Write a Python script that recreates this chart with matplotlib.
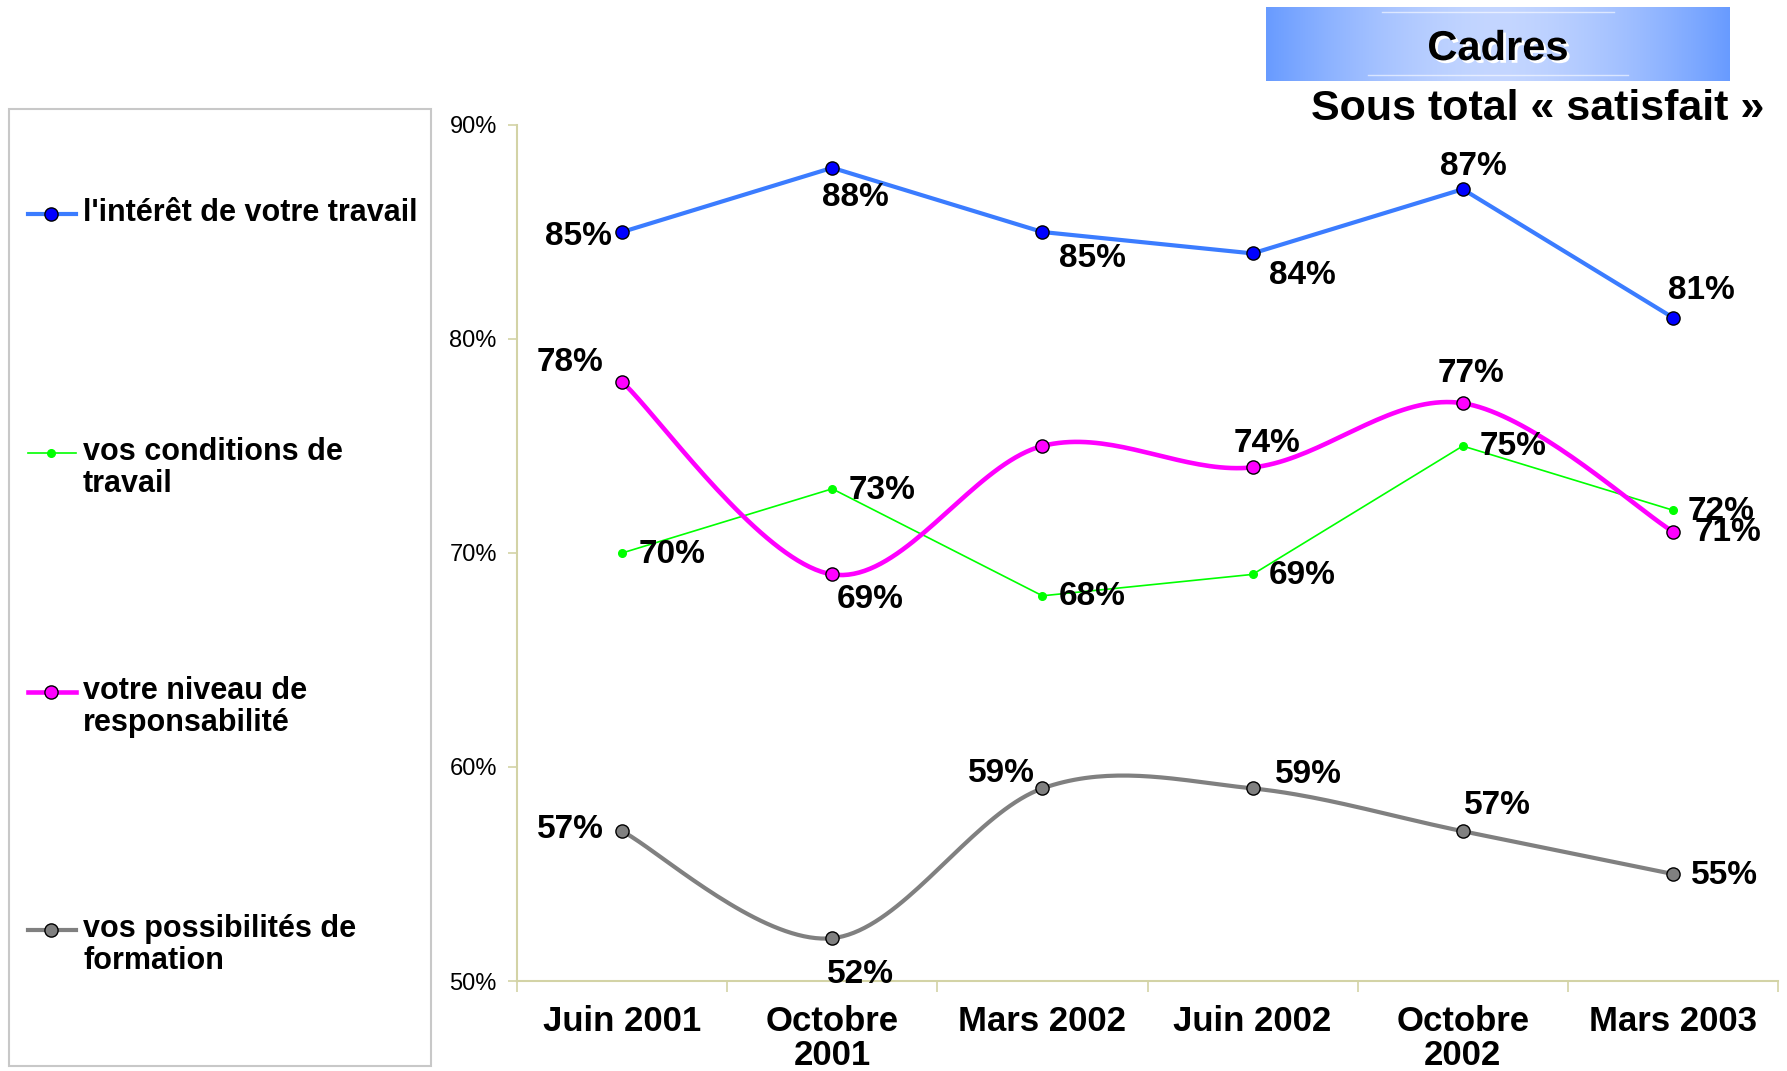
import numpy as np
import matplotlib
matplotlib.use("Agg")
import matplotlib.pyplot as plt
from matplotlib.lines import Line2D
from matplotlib.patches import Rectangle
import matplotlib.patheffects as pe

# ---------------- data ----------------
categories = ["Juin 2001", "Octobre\n2001", "Mars 2002", "Juin 2002", "Octobre\n2002", "Mars 2003"]
interet = [85, 88, 85, 84, 87, 81]
conditions = [70, 73, 68, 69, 75, 72]
responsabilite = [78, 69, 75, 74, 77, 71]
formation = [57, 52, 59, 59, 57, 55]
y_ticks = [50, 60, 70, 80, 90]
series_names = ["l'intérêt de votre travail", "vos conditions de\ntravail",
                "votre niveau de\nresponsabilité", "vos possibilités de\nformation"]
# label offsets in pixels (style only); None = no label
off_interet = [(-44, -5), (23, -30), (50, -27), (50, -22), (11, 23), (28, 27)]
off_conditions = [(50, -2), (50, -2), (50, -1), (50, -1), (50, -1), (48, -1)]
off_respons = [(-52, 19), (38, -25), None, (14, 24), (8, 30), (55, -1)]
off_formation = [(-52, 2), (28, -36), (-41, 15), (56, 14), (35, 26), (52, -1)]

FONT = "Liberation Sans"
plt.rcParams["font.family"] = [FONT, "DejaVu Sans"]

W, H = 1787, 1071
fig = plt.figure(figsize=(W / 100, H / 100), dpi=100)
fig.patch.set_facecolor("white")


def smooth(xs, ys, n=40):
    """Excel-like smoothed line (Catmull-Rom Bezier)."""
    P = np.column_stack([xs, ys]).astype(float)
    Pe = np.vstack([P[0], P, P[-1]])
    out = []
    for i in range(len(P) - 1):
        p0, p1, p2, p3 = Pe[i], Pe[i + 1], Pe[i + 2], Pe[i + 3]
        c1 = p1 + (p2 - p0) / 6.0
        c2 = p2 - (p3 - p1) / 6.0
        t = np.linspace(0, 1, n)[:, None]
        seg = ((1 - t) ** 3) * p1 + 3 * ((1 - t) ** 2) * t * c1 + 3 * (1 - t) * t ** 2 * c2 + t ** 3 * p2
        out.append(seg if i == 0 else seg[1:])
    out = np.vstack(out)
    return out[:, 0], out[:, 1]


axL, axR = 517, 1778
axT, axB = 125, 981
ax = fig.add_axes([axL / W, (H - axB) / H, (axR - axL) / W, (axB - axT) / H])
x = np.arange(len(categories))

BLUE_L = "#3b7cff"
MAG = "#ff00ff"
GRN = "#00ff00"
GRY = "#808080"
SPINE = "#d3d3a6"

# interet (straight)
ax.plot(x, interet, color=BLUE_L, lw=3.0, zorder=3)
ax.plot(x, interet, ls="none", marker="o", ms=9.5, mfc="#0000ff", mec="black", mew=1.0, zorder=4)
# conditions (straight, thin)
ax.plot(x, conditions, color=GRN, lw=1.2, zorder=3)
ax.plot(x, conditions, ls="none", marker="o", ms=5.5, mfc=GRN, mec=GRN, zorder=4)
# responsabilite (smooth)
sx, sy = smooth(x, responsabilite)
ax.plot(sx, sy, color=MAG, lw=3.3, zorder=3, solid_capstyle="round")
ax.plot(x, responsabilite, ls="none", marker="o", ms=9.5, mfc=MAG, mec="black", mew=1.0, zorder=4)
# formation (smooth)
sx, sy = smooth(x, formation)
ax.plot(sx, sy, color=GRY, lw=3.0, zorder=3, solid_capstyle="round")
ax.plot(x, formation, ls="none", marker="o", ms=9.5, mfc=GRY, mec="black", mew=1.0, zorder=4)

for vals, offs in [(interet, off_interet), (conditions, off_conditions),
                   (responsabilite, off_respons), (formation, off_formation)]:
    for xi, v, o in zip(x, vals, offs):
        if o is None:
            continue
        ax.annotate(f"{v}%", (xi, v), xytext=o, textcoords="offset pixels",
                    ha="center", va="center", fontsize=24, fontweight="bold",
                    color="black", zorder=6, annotation_clip=False)

ax.set_xlim(-0.5, len(categories) - 0.5)
ax.set_ylim(50, 90)
ax.set_yticks(y_ticks)
ax.set_yticklabels([f"{t}%" for t in y_ticks], fontsize=17)
ax.set_xticks(x)
ax.set_xticklabels(categories, fontsize=25, fontweight="bold", linespacing=1.05)
ax.set_xticks(np.arange(-0.5, len(categories)), minor=True)
ax.tick_params(axis="x", which="major", length=0, pad=17)
ax.tick_params(axis="x", which="minor", length=8, color=SPINE, width=1.2)
ax.tick_params(axis="y", which="major", length=6.5, color=SPINE, width=1.2, pad=8)
for s in ["top", "right"]:
    ax.spines[s].set_visible(False)
for s in ["left", "bottom"]:
    ax.spines[s].set_color(SPINE)
    ax.spines[s].set_linewidth(1.5)
ax.set_facecolor("none")

# ---------------- legend (drawn manually) ----------------
fig.add_artist(Rectangle((9 / W, 1 - 1066 / H), (431 - 9) / W, (1066 - 109) / H,
                         transform=fig.transFigure, fill=False, edgecolor="#c8c8c8", lw=1.5))
leg_y = [214, 453, 692, 930]
leg_styles = [
    dict(color=BLUE_L, lw=3.0, mfc="#0000ff", mec="black", ms=9.5),
    dict(color=GRN, lw=1.2, mfc=GRN, mec=GRN, ms=5.5),
    dict(color=MAG, lw=3.3, mfc=MAG, mec="black", ms=9.5),
    dict(color=GRY, lw=3.0, mfc=GRY, mec="black", ms=9.5),
]
for name, yy, st in zip(series_names, leg_y, leg_styles):
    yf = 1 - yy / H
    fig.add_artist(Line2D([28 / W, 76 / W], [yf, yf], transform=fig.transFigure,
                          color=st["color"], lw=st["lw"]))
    fig.add_artist(Line2D([51 / W], [yf], transform=fig.transFigure, ls="none",
                          marker="o", ms=st["ms"], mfc=st["mfc"], mec=st["mec"], mew=1.0))
    fig.text(83 / W, yf + 16 / H, name, ha="left", va="top", fontsize=22,
             fontweight="bold", linespacing=1.1)

# ---------------- title box ----------------
bx0, bx1, by0, by1 = 1266, 1730, 7, 81
bax = fig.add_axes([bx0 / W, 1 - by1 / H, (bx1 - bx0) / W, (by1 - by0) / H])
u = np.linspace(-1, 1, 400)
g = 1 - np.abs(u) ** 1.6
edge = np.array([0x68, 0x9b, 0xff]) / 255
centre = np.array([0xc4, 0xd6, 0xff]) / 255
img = edge[None, :] + (centre - edge)[None, :] * g[:, None]
bax.imshow(img[None, :, :], aspect="auto", extent=[0, 1, 0, 1])
bax.plot([0.25, 0.75], [0.93, 0.93], color="white", lw=1, alpha=0.6)
bax.plot([0.22, 0.78], [0.08, 0.08], color="white", lw=1, alpha=0.6)
bax.set_xlim(0, 1)
bax.set_ylim(0, 1)
bax.axis("off")
fig.text(1498 / W, 1 - 49 / H, "Cadres", ha="center", va="center", fontsize=30,
         fontweight="bold", color="black",
         path_effects=[pe.withSimplePatchShadow(offset=(2, -2), shadow_rgbFace="white", alpha=1.0)])
fig.text(1764 / W, 1 - 109 / H, "Sous total « satisfait »", ha="right", va="center",
         fontsize=31, fontweight="bold", color="black")

fig.savefig("out.png", dpi=100, facecolor="white")
